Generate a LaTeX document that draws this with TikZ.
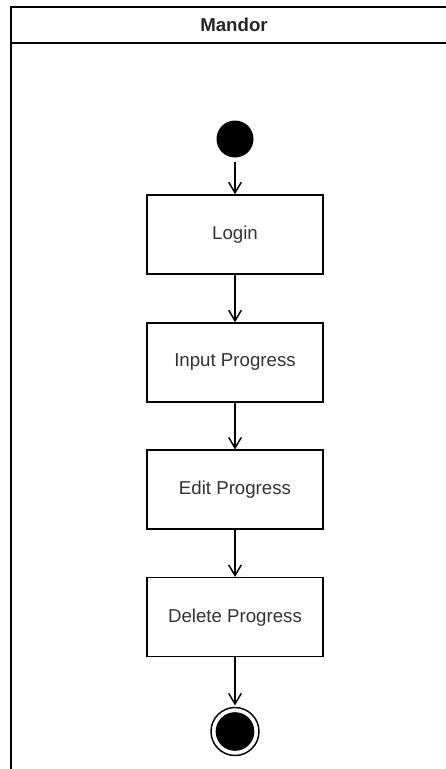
\documentclass[tikz,border=0pt]{standalone}
\usepackage{fontspec}
\setmainfont{Liberation Sans}
\usetikzlibrary{arrows.meta}

\tikzset{
  act/.style={draw, line width=1.1pt, minimum width=132pt, minimum height=59.25pt, inner sep=0pt, text=black!80, font=\fontsize{14}{16}\selectfont},
  initial/.style={circle, fill=black, minimum size=27.75pt, inner sep=0pt},
  final/.style={circle, draw, line width=1.1pt, minimum size=36pt, inner sep=0pt,
    path picture={\fill (path picture bounding box.center) circle (14.5pt);}},
  flow/.style={line width=1.1pt, -{Straight Barb[length=8pt, width=9.5pt, line width=1.1pt]}}
}

\begin{document}
\begin{tikzpicture}[x=0.75pt,y=0.75pt,yscale=-1]
    \useasboundingbox (0,0) rectangle (446,769);
    
    %Shape: Swimlane 
    \draw [line width=1.5pt] (11,775) -- (11,6.5) -- (452,6.5) ;
    \draw [line width=1.5pt] (11,43) -- (452,43) ;
    % Text Node
    \node (lane) at (234,25) [text=black!85, font=\fontsize{14}{16}\selectfont\bfseries] {Mandor};
    
    %Shape: Circle 
    \node (start) at (235,139) [initial] {};
    %Shape: Rectangle 
    \node (login) at (235,234.5) [act] {Login};
    %Shape: Rectangle 
    \node (input) at (235,362.5) [act] {Input Progress};
    %Shape: Rectangle 
    \node (edit) at (235,489.7) [act] {Edit Progress};
    %Shape: Rectangle 
    \node (delete) at (235,617.2) [act] {Delete Progress};
    %Shape: Circle 
    \node (end) at (235,731.5) [final] {};
    
    %Straight Lines 
    \draw [flow, shorten <=3.5pt] (start) -- (login) ;
    \draw [flow] (login) -- (input) ;
    \draw [flow] (input) -- (edit) ;
    \draw [flow] (edit) -- (delete) ;
    \draw [flow, shorten >=1pt] (delete) -- (end) ;
    
\end{tikzpicture}
\end{document}
